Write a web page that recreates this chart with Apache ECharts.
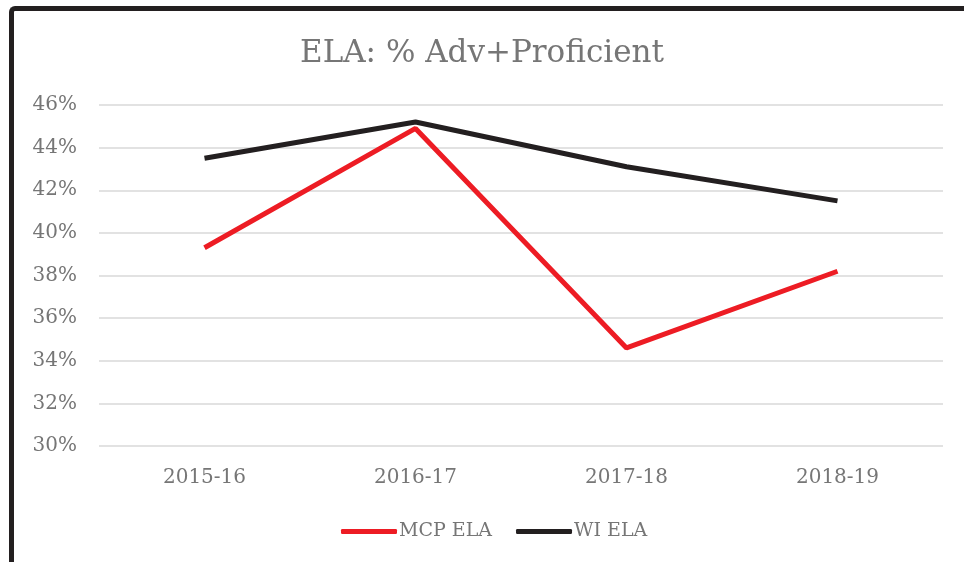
<!DOCTYPE html>
<html>
<head>
<meta charset="utf-8">
<script src="https://cdn.jsdelivr.net/npm/echarts@6/dist/echarts.min.js"></script>
<style>
  html, body { margin: 0; padding: 0; background: #fff; }
  .frame {
    position: absolute; left: 9px; top: 6px; width: 980px; height: 600px;
    border-left: 5px solid #231f20; border-top: 5px solid #231f20;
    border-top-left-radius: 6px; box-sizing: border-box;
  }
  #main { position: absolute; left: 0; top: 0; width: 964px; height: 562px; }
</style>
</head>
<body>
<div class="frame"></div>
<div id="main"></div>
<script>
  // ELA proficiency data
  let years = ['2015-16', '2016-17', '2017-18', '2018-19']
  let mcpData = [39.3, 44.9, 34.6, 38.2]
  let wiData = [43.5, 45.2, 43.1, 41.5]

  let myChart = echarts.init(document.getElementById('main'))
  let fontFam = '"DejaVu Serif", "Liberation Serif", serif'
  let grey = '#767676'

  let option = {
    backgroundColor: 'transparent',
    title: {
      text: 'ELA: % Adv+Proficient',
      left: 'center',
      top: 33,
      textStyle: { color: grey, fontFamily: fontFam, fontWeight: 'normal', fontSize: 31 }
    },
    legend: {
      data: ['MCP ELA', 'WI ELA'],
      top: 517,
      left: 336,
      itemWidth: 56,
      itemHeight: 5,
      itemGap: 24,
      icon: 'roundRect',
      textStyle: { color: grey, fontFamily: fontFam, fontSize: 19, padding: [0, 0, 0, -3] }
    },
    grid: {
      left: 99,
      right: 21,
      top: 105,
      bottom: 116
    },
    xAxis: {
      type: 'category',
      data: years,
      axisLine: { show: false },
      axisTick: { show: false },
      axisLabel: { color: grey, fontFamily: fontFam, fontSize: 20, margin: 22 }
    },
    yAxis: {
      type: 'value',
      min: 30,
      max: 46,
      interval: 2,
      axisLine: { show: false },
      axisTick: { show: false },
      splitLine: { lineStyle: { color: '#d9d9d9', width: 1.5 } },
      axisLabel: {
        color: grey, fontFamily: fontFam, fontSize: 20, margin: 22,
        formatter: function (v) { return v + '%' }
      }
    },
    series: [
      {
        name: 'MCP ELA',
        type: 'line',
        data: mcpData,
        symbol: 'none',
        lineStyle: { color: '#ed1c24', width: 5 },
        itemStyle: { color: '#ed1c24' }
      },
      {
        name: 'WI ELA',
        type: 'line',
        data: wiData,
        symbol: 'none',
        lineStyle: { color: '#231f20', width: 5 },
        itemStyle: { color: '#231f20' }
      }
    ]
  }
  myChart.setOption(option)
</script>
</body>
</html>
